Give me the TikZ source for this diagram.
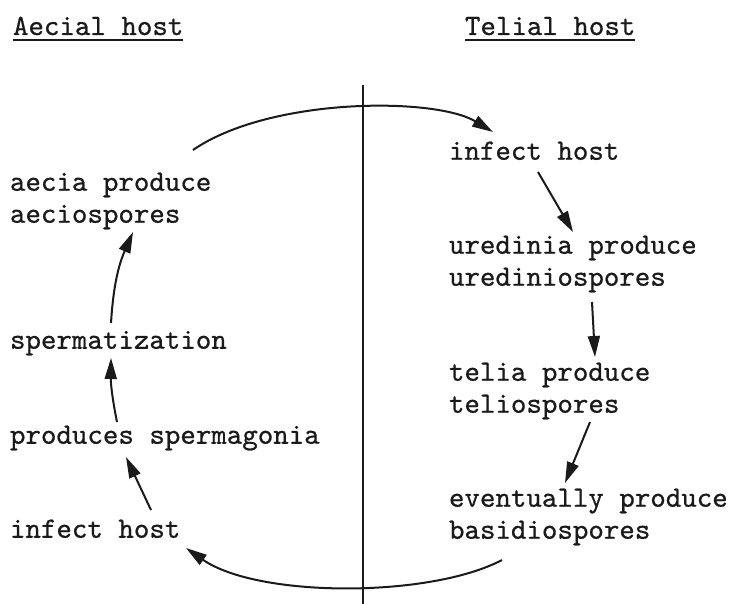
\documentclass[tikz,border=0pt]{standalone}
\usepackage{fontspec}
\usetikzlibrary{arrows.meta,calc}
\newfontfamily\typew{lmmono10-regular.otf}[FakeBold=0.7]
\definecolor{ink}{HTML}{1A1A1A}
\tikzset{
  lbl/.style={font=\typew\fontsize{29.5pt}{32pt}\selectfont, align=left,
    inner sep=0pt, outer sep=0pt, anchor=west, text=ink},
  oneline/.style={text height=18pt, text depth=6.5pt},
  head/.style={lbl, anchor=base west},
  flow/.style={line width=2pt, draw=ink, -{Triangle[length=21pt,width=12pt]}},
  rulebar/.style={line width=1.8pt, draw=ink},
  axis/.style={line width=1.4pt, draw=ink},
}
\begin{document}
\begin{tikzpicture}[x=1pt,y=-1pt]
\useasboundingbox (0,0) rectangle (729,604);

% column headings
\node[head] (hA) at (13,35) {Aecial host};
\node[head] (hT) at (465,35) {Telial host};
\draw[rulebar] ($(hA.base west)+(0,5)$) -- ($(hA.base east)+(0,5)$);
\draw[rulebar] ($(hT.base west)+(0,5)$) -- ($(hT.base east)+(0,5)$);

% dividing line between the two hosts
\coordinate (divtop) at (363,85);
\coordinate (divbot) at (363,604);
\draw[axis] (divtop) -- (divbot);

% aecial host stages
\node[lbl] (aec) at (10,201) {aecia produce\\aeciospores};
\node[lbl,oneline] (sperm) at (10,343) {spermatization};
\node[lbl,oneline] (prodsp) at (10,438) {produces spermagonia};
\node[lbl,oneline] (infL) at (10,532) {infect host};

% telial host stages
\node[lbl,oneline] (infR) at (449,154) {infect host};
\node[lbl] (ured) at (449,264) {uredinia produce\\urediniospores};
\node[lbl] (telia) at (449,391) {telia produce\\teliospores};
\node[lbl] (even) at (449,517) {eventually produce\\basidiospores};

% cycle
\draw[flow] ($(aec.west)+(183,-51)$) .. controls (270,97) and (435,97) .. ($(infR.west)+(44,-22)$);
\draw[flow] ($(infR.west)+(89,18)$) -- ($(ured.west)+(124,-32)$);
\draw[flow] ($(ured.west)+(143,38)$) -- ($(telia.west)+(146,-34)$);
\draw[flow] ($(telia.west)+(141,31)$) -- ($(even.west)+(116,-34)$);
\draw[flow] ($(even.west)+(53,43)$) .. controls (430,598) and (258,598) .. ($(infL.west)+(176,16)$);
\draw[flow] ($(infL.west)+(141,-22)$) -- ($(prodsp.west)+(116,19)$);
\draw[flow] ($(prodsp.west)+(107,-16)$) to[bend left=6] ($(sperm.west)+(101,15)$);
\draw[flow] ($(sperm.west)+(101,-20)$) to[bend left=10] ($(aec.west)+(123,31)$);
\end{tikzpicture}
\end{document}
